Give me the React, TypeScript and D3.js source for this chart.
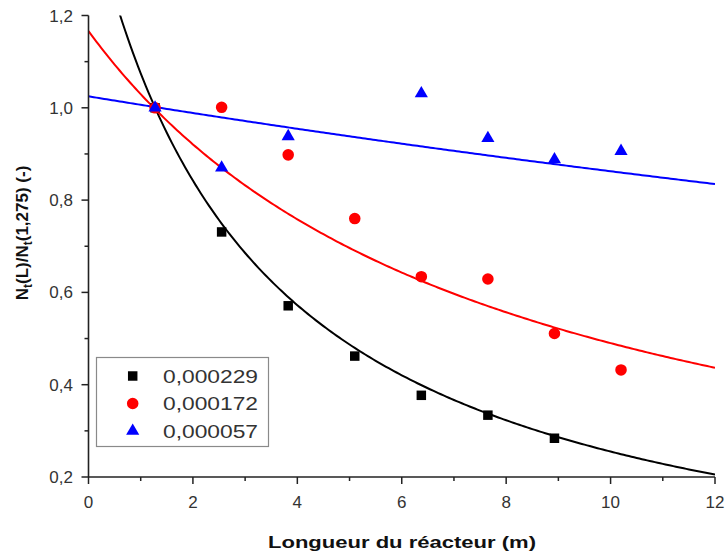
import React from "react";
import * as d3 from "d3";

const W = 725;
const H = 554;

const xTicks = [0, 2, 4, 6, 8, 10, 12];
const xMinor = [1, 3, 5, 7, 9, 11];
const yTicks = [0.2, 0.4, 0.6, 0.8, 1.0, 1.2];
const yMinor = [0.3, 0.5, 0.7, 0.9, 1.1];

const blackX = [1.275, 2.55, 3.825, 5.1, 6.375, 7.65, 8.925];
const blackY = [1.0, 0.731, 0.571, 0.462, 0.377, 0.334, 0.284];
const redX = [1.275, 2.55, 3.825, 5.1, 6.375, 7.65, 8.925, 10.2];
const redY = [1.0, 1.001, 0.898, 0.76, 0.634, 0.629, 0.511, 0.432];
const blueX = [1.275, 2.55, 3.825, 6.375, 7.65, 8.925, 10.2];
const blueY = [1.0, 0.87, 0.938, 1.031, 0.934, 0.888, 0.906];

const seriesNames = ["0,000229", "0,000172", "0,000057"];
const seriesColors = ["#000000", "#ff0000", "#0000ff"];
// fitted curves y = c + a / (x + d)
const fitA = [4.974, 9.405, 88.25];
const fitD = [3.153, 7.81, 68.9];
const fitC = [-0.123, -0.038, -0.256];

const FONT = "'Liberation Sans', Arial, sans-serif";

export default function App() {
  const x = d3.scaleLinear().domain([0, 12]).range([88.5, 715]);
  const y = d3.scaleLinear().domain([0.2, 1.2]).range([477, 15.5]);

  const samples = d3.range(0, 12.0001, 0.05);
  const line = d3
    .line<number[]>()
    .x((d) => x(d[0]))
    .y((d) => y(d[1]));

  const fits = fitA.map((a, i) =>
    line(samples.map((s) => [s, fitC[i] + a / (s + fitD[i])]))
  );

  const sq = d3.symbol().type(d3.symbolSquare).size(90)();
  const ci = d3.symbol().type(d3.symbolCircle).size(105)();
  const tr = d3.symbol().type(d3.symbolTriangle).size(75)();
  const shapes = [sq, ci, tr];

  const series = [
    { xs: blackX, ys: blackY },
    { xs: redX, ys: redY },
    { xs: blueX, ys: blueY },
  ];

  const axisColor = "#222";
  const labelColor = "#333";

  return (
    <svg
      width={W}
      height={H}
      style={{ position: "absolute", left: 0, top: 0, background: "#fff" }}
      fontFamily={FONT}
    >
      <defs>
        <clipPath id="plot">
          <rect x={88.5} y={15.5} width={626.5} height={461.5} />
        </clipPath>
      </defs>

      {/* fit curves */}
      <g clipPath="url(#plot)">
        {fits.map((p, i) => (
          <path key={i} d={p || ""} fill="none" stroke={seriesColors[i]} strokeWidth={2} />
        ))}
      </g>

      {/* axes */}
      <line x1={x(0)} x2={x(12)} y1={y(0.2)} y2={y(0.2)} stroke={axisColor} strokeWidth={1.6} />
      <line x1={x(0)} x2={x(0)} y1={y(0.2)} y2={y(1.2)} stroke={axisColor} strokeWidth={1.6} />
      {xTicks.map((t) => (
        <g key={"xt" + t}>
          <line x1={x(t)} x2={x(t)} y1={y(0.2)} y2={y(0.2) + 7} stroke={axisColor} strokeWidth={1.5} />
          <text x={x(t)} y={508} textAnchor="middle" fontSize={17} fill={labelColor}>
            {t}
          </text>
        </g>
      ))}
      {xMinor.map((t) => (
        <line key={"xm" + t} x1={x(t)} x2={x(t)} y1={y(0.2)} y2={y(0.2) + 4} stroke={axisColor} strokeWidth={1.5} />
      ))}
      {yTicks.map((t) => (
        <g key={"yt" + t}>
          <line x1={x(0) - 7} x2={x(0)} y1={y(t)} y2={y(t)} stroke={axisColor} strokeWidth={1.5} />
          <text x={73} y={y(t) + 6} textAnchor="end" fontSize={17} fill={labelColor}>
            {t.toFixed(1).replace(".", ",")}
          </text>
        </g>
      ))}
      {yMinor.map((t) => (
        <line key={"ym" + t} x1={x(0) - 4} x2={x(0)} y1={y(t)} y2={y(t)} stroke={axisColor} strokeWidth={1.5} />
      ))}

      {/* points */}
      {series.map((s, i) => (
        <g key={"s" + i} fill={seriesColors[i]}>
          {s.xs.map((xv, j) => (
            <path key={j} d={shapes[i] || ""} transform={`translate(${x(xv)},${y(s.ys[j])})`} />
          ))}
        </g>
      ))}

      {/* axis titles */}
      <text
        x={402}
        y={548}
        textAnchor="middle"
        fontSize={16}
        fontWeight="bold"
        fill="#111"
        textLength={268}
        lengthAdjust="spacingAndGlyphs"
      >
        Longueur du réacteur (m)
      </text>
      <text
        transform="translate(28,233) rotate(-90)"
        textAnchor="middle"
        fontSize={17}
        fontWeight="bold"
        fill="#111"
      >
        N<tspan fontSize={12} dy={4}>t</tspan>
        <tspan dy={-4}>(L)/N</tspan>
        <tspan fontSize={12} dy={4}>t</tspan>
        <tspan dy={-4}>(1,275) (-)</tspan>
      </text>

      {/* legend */}
      <rect x={96.5} y={357.5} width={172} height={89} fill="#fff" stroke="#8a8a8a" strokeWidth={1.2} />
      {seriesNames.map((n, i) => (
        <g key={"lg" + i}>
          <path d={shapes[i] || ""} fill={seriesColors[i]} transform={`translate(132.7,${376 + i * 27.5})`} />
          <text
            x={163}
            y={376 + i * 27.5 + 6.5}
            fontSize={18}
            fill={labelColor}
            textLength={95}
            lengthAdjust="spacingAndGlyphs"
          >
            {n}
          </text>
        </g>
      ))}
    </svg>
  );
}
